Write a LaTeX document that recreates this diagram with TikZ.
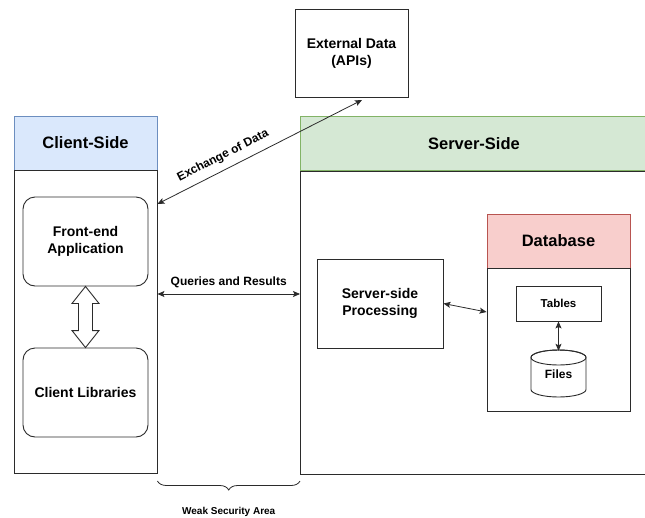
\documentclass[tikz,border=0pt]{standalone}
\usepackage{fontspec}
\setmainfont{Liberation Sans}
\usetikzlibrary{arrows.meta,decorations.pathreplacing,calc}

\definecolor{clientfill}{HTML}{DAE8FC}
\definecolor{clientline}{HTML}{6C8EBF}
\definecolor{serverfill}{HTML}{D5E8D4}
\definecolor{serverline}{HTML}{82B366}
\definecolor{dbfill}{HTML}{F8CECC}
\definecolor{dbline}{HTML}{B85450}
\definecolor{ink}{HTML}{2B2B2B}

\begin{document}
\begin{tikzpicture}[x=1pt,y=-1pt,
  box/.style={draw=ink, line width=0.9pt, inner sep=0pt, align=center,
    font=\bfseries\fontsize{14}{17}\selectfont},
  plain/.style={draw=ink, line width=0.9pt, inner sep=0pt},
  header/.style={line width=0.9pt, inner sep=0pt, align=center,
    font=\bfseries\fontsize{16.5}{19}\selectfont},
  lbl/.style={inner sep=0pt, font=\bfseries\fontsize{12}{14}\selectfont},
  tip/.style={{Stealth[length=7pt,width=6pt,inset=1.5pt]}-{Stealth[length=7pt,width=6pt,inset=1.5pt]}},
  link/.style={draw=ink, line width=0.8pt, tip},
  hollow/.style={draw=ink, line width=0.9pt, fill=white, line join=miter}
]
\useasboundingbox (0,0) rectangle (645,517);
\fill[white] (0,0) rectangle (645,517);
\clip (0,0) rectangle (645,517);

% external service
\node[box, minimum width=113pt, minimum height=88pt] (ext) at (351.5,53) {External Data\\(APIs)};

% client container
\node[header, draw=clientline, fill=clientfill, minimum width=143pt, minimum height=54pt] (clienthead) at (85.5,143) {Client-Side};
\node[plain, minimum width=143pt, minimum height=303pt, anchor=north] (clientbody) at (clienthead.south) {};
\node[box, rounded corners=12pt, minimum width=125pt, minimum height=89pt] (fe) at (85.5,241.5) {Front-end\\Application};
\node[box, rounded corners=12pt, minimum width=125pt, minimum height=89pt] (cl) at (85.5,392.5) {Client Libraries};

% two-way hollow arrow between front end and libraries
\draw[hollow] (fe.south) -- ++(13.5,17) -- ++(-6.5,0) -- ($(cl.north)+(7,-17)$) -- ++(6.5,0)
  -- (cl.north) -- ++(-13.5,-17) -- ++(6.5,0) -- ($(fe.south)+(-7,17)$) -- ++(-6.5,0) -- cycle;

% server container (runs past the right edge)
\node[header, draw=serverline, fill=serverfill, minimum width=347pt, minimum height=54pt, anchor=north west] (serverhead) at (300,116) {Server-Side};
\node[plain, minimum width=347pt, minimum height=303pt, anchor=north] (serverbody) at (serverhead.south) {};
\node[box, minimum width=126pt, minimum height=89pt] (ssp) at (380,303.5) {Server-side\\Processing};

% database
\node[header, draw=dbline, fill=dbfill, minimum width=143pt, minimum height=54pt] (dbhead) at (558.5,241) {Database};
\node[plain, minimum width=143pt, minimum height=143pt, anchor=north] (dbbody) at (dbhead.south) {};
\node[box, font=\bfseries\fontsize{11.5}{14}\selectfont, minimum width=85pt, minimum height=35pt] (tables) at (558.5,303.5) {Tables};

% storage cylinder
\coordinate (fc) at (558.5,373.5);
\draw[draw=ink, line width=0.9pt, fill=white]
  ($(fc)+(-27.5,-16)$) -- ($(fc)+(-27.5,16)$)
  arc[start angle=180, end angle=360, x radius=27.5pt, y radius=7.5pt]
  -- ($(fc)+(27.5,-16)$)
  arc[start angle=0, end angle=180, x radius=27.5pt, y radius=7.5pt];
\draw[draw=ink, line width=0.9pt] ($(fc)+(0,-16)$) ellipse[x radius=27.5pt, y radius=7.5pt];
\node[inner sep=0pt, minimum width=55pt, minimum height=47pt, font=\bfseries\fontsize{12}{14}\selectfont] (files) at ($(fc)+(0,0.5)$) {Files};

% connectors
\coordinate (exA) at (clientbody.east |- 0,204);
\coordinate (exB) at (362,100);
\draw[link] (exA) -- (exB) node[pos=0.35, above=7pt, sloped, lbl] {Exchange of Data};

\coordinate (qA) at (clientbody.east |- 0,294);
\coordinate (qB) at (serverbody.west |- 0,294);
\draw[link] (qA) -- (qB) node[midway, above=6pt, lbl] {Queries and Results};

\coordinate (dbIn) at (dbbody.west |- 0,312);
\draw[link] (ssp.east) -- (dbIn);
\draw[link] (tables.south) -- ($(files.north)+(0,0.5)$);

% brace under the gap between client and server
\coordinate (brA) at (clientbody.east |- 0,481);
\coordinate (brB) at (serverbody.west |- 0,481);
\draw[draw=ink, line width=0.8pt, decorate, decoration={brace, mirror, amplitude=9pt}] (brA) -- (brB)
  node[midway, below=26pt, font=\bfseries\fontsize{10}{12}\selectfont, inner sep=0pt] {Weak Security Area};
\end{tikzpicture}
\end{document}
